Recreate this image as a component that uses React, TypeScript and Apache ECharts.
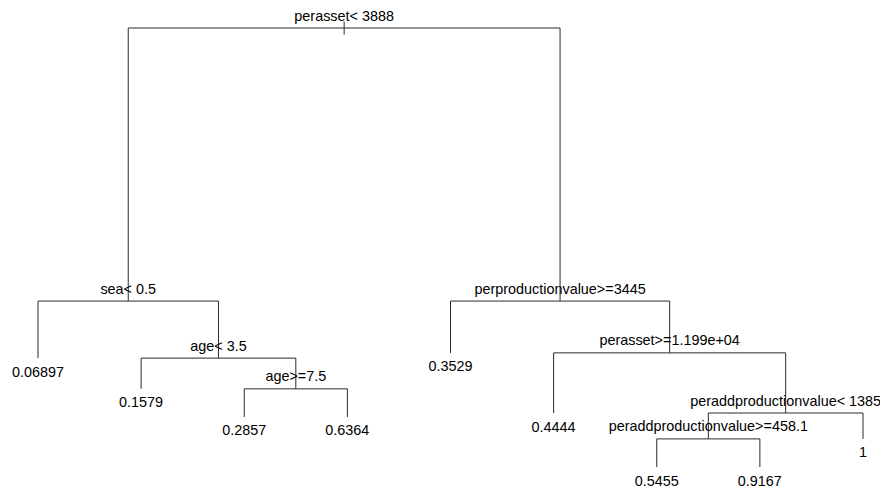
import React, { useEffect, useRef } from "react";
import * as echarts from "echarts";

// rpart node numbers (child of n: 2n left, 2n+1 right), in pre-order
const nodeIds = [1, 2, 4, 5, 10, 11, 22, 23, 3, 6, 7, 14, 15, 30, 60, 61, 31];
const nodeText = [
  "perasset< 3888",
  "sea< 0.5",
  "0.06897",
  "age< 3.5",
  "0.1579",
  "age>=7.5",
  "0.2857",
  "0.6364",
  "perproductionvalue>=3445",
  "0.3529",
  "perasset>=1.199e+04",
  "0.4444",
  "peraddproductionvalue< 1385",
  "peraddproductionvalue>=458.1",
  "0.5455",
  "0.9167",
  "1",
];
// node heights (deviance-scaled, root = 1)
const nodeHeight = [1, 0.378, 0.248, 0.248, 0.178, 0.178, 0.114, 0.114, 0.378, 0.26, 0.26, 0.123, 0.123, 0.064, 0, 0, 0.064];

const FONT = "Liberation Sans, Arial, Helvetica, sans-serif";
const FS = 14.4;

function buildTree() {
  const idx: Record<number, number> = {};
  nodeIds.forEach((id, i) => (idx[id] = i));
  const xs: number[] = new Array(nodeIds.length).fill(0);
  let leafCounter = 0;
  const place = (id: number): number => {
    const i = idx[id];
    const l = idx[id * 2];
    const r = idx[id * 2 + 1];
    if (l === undefined || r === undefined) {
      leafCounter += 1;
      xs[i] = leafCounter;
    } else {
      const xl = place(id * 2);
      const xr = place(id * 2 + 1);
      xs[i] = (xl + xr) / 2;
    }
    return xs[i];
  };
  place(1);
  return { idx, xs, leafCount: leafCounter };
}

export default function App() {
  const ref = useRef<HTMLDivElement>(null);

  useEffect(() => {
    if (!ref.current) return;
    const chart = echarts.init(ref.current, undefined, { renderer: "svg" });
    const { idx, xs, leafCount } = buildTree();
    const data = nodeIds.map((id, i) => [xs[i], nodeHeight[i], i]);

    chart.setOption({
      animation: false,
      backgroundColor: "#ffffff",
      grid: { left: 38, right: 17, top: 28, bottom: 24 },
      xAxis: { type: "value", min: 1, max: leafCount, show: false },
      yAxis: { type: "value", min: 0, max: 1, show: false },
      series: [
        {
          type: "custom",
          clip: false,
          data,
          renderItem: (params: any, api: any) => {
            const i = api.value(2);
            const id = nodeIds[i];
            const c = api.coord([xs[i], nodeHeight[i]]);
            const children: any[] = [];
            const l = idx[id * 2];
            const r = idx[id * 2 + 1];
            const lineStyle = { stroke: "#2a2a2a", lineWidth: 1, fill: null };
            if (l !== undefined && r !== undefined) {
              const cl = api.coord([xs[l], nodeHeight[l]]);
              const cr = api.coord([xs[r], nodeHeight[r]]);
              children.push({
                type: "polyline",
                shape: {
                  points: [
                    [cl[0], cl[1]],
                    [cl[0], c[1]],
                    [cr[0], c[1]],
                    [cr[0], cr[1]],
                  ],
                },
                style: lineStyle,
              });
              if (id === 1) {
                const top = api.coord([xs[i], nodeHeight[i] + 0.015]);
                const bot = api.coord([xs[i], nodeHeight[i] - 0.015]);
                children.push({
                  type: "line",
                  shape: { x1: c[0], y1: top[1], x2: c[0], y2: bot[1] },
                  style: lineStyle,
                });
              }
              children.push({
                type: "text",
                style: {
                  text: nodeText[i],
                  x: c[0],
                  y: c[1] - 12.5,
                  align: "center",
                  verticalAlign: "middle",
                  fontSize: FS,
                  fontFamily: FONT,
                  fill: "#000",
                },
              });
            } else {
              children.push({
                type: "text",
                style: {
                  text: nodeText[i],
                  x: c[0],
                  y: c[1] + 13.5,
                  align: "center",
                  verticalAlign: "middle",
                  fontSize: FS,
                  fontFamily: FONT,
                  fill: "#000",
                },
              });
            }
            return { type: "group", children };
          },
        },
      ],
    });

    return () => chart.dispose();
  }, []);

  return (
    <div
      ref={ref}
      style={{ position: "fixed", left: 0, top: 0, width: 880, height: 491, background: "#fff" }}
    />
  );
}
